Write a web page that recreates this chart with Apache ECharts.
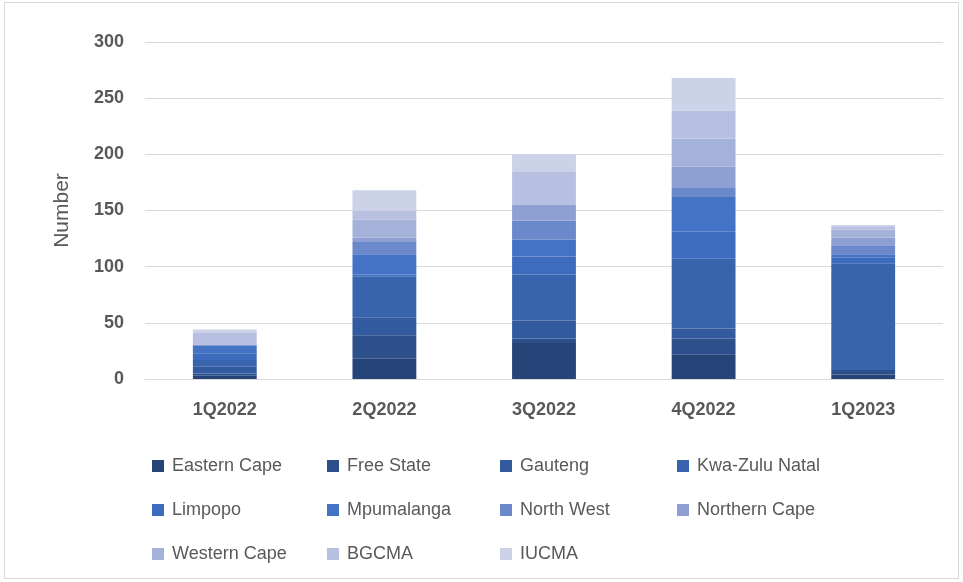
<!DOCTYPE html>
<html><head><meta charset="utf-8">
<script src="https://cdn.jsdelivr.net/npm/echarts@6/dist/echarts.min.js"></script>
<style>html,body{margin:0;padding:0;background:#fff}#wrap{position:absolute;left:4px;top:2px;width:955px;height:577px;border:1px solid #d9d9d9;box-sizing:border-box}#c{position:absolute;left:0;top:0;width:963px;height:582px}</style>
</head><body><div id="wrap"></div><div id="c"></div>
<script>
const categories = ['1Q2022','2Q2022','3Q2022','4Q2022','1Q2023'];
const seriesNames = ['Eastern Cape','Free State','Gauteng','Kwa-Zulu Natal','Limpopo','Mpumalanga','North West','Northern Cape','Western Cape','BGCMA','IUCMA'];
const easternCape  = [3, 18, 32, 22, 4];
const freeState    = [2, 21, 4, 14, 4];
const gauteng      = [6, 16, 16, 9, 0];
const kwaZuluNatal = [6, 36, 41, 62, 95];
const limpopo      = [6, 2, 16, 24, 5];
const mpumalanga   = [7, 18, 15, 31, 3];
const northWest    = [0, 11, 17, 8, 8];
const northernCape = [0, 4, 14, 19, 7];
const westernCape  = [1, 16, 0, 25, 7];
const bgcma        = [10, 8, 30, 25, 3];
const iucma        = [3, 18, 15, 29, 1];
const yTicks = [0, 50, 100, 150, 200, 250, 300];
const colors = ['#264478','#2d4f8c','#325a9f','#3863ad','#3d6bbd','#4472c4','#6b88cb','#8ea0d3','#a4b2da','#b7c0e1','#ccd2e8'];
const allData = [easternCape, freeState, gauteng, kwaZuluNatal, limpopo, mpumalanga, northWest, northernCape, westernCape, bgcma, iucma];

const legendPos = [
  [152,457],[327,457],[500,457],[677,457],
  [152,501],[327,501],[500,501],[677,501],
  [152,545],[327,545],[500,545]
];
const legends = seriesNames.map((n,i)=>({
  data:[n], left:legendPos[i][0], top:legendPos[i][1], itemWidth:12, itemHeight:12, itemGap:0, padding:0,
  icon:'rect', selectedMode:false,
  textStyle:{color:'#595959', fontSize:18, fontFamily:'Liberation Sans', padding:[0,0,0,3]}
}));

const chart = echarts.init(document.getElementById('c'));
chart.setOption({
  animation:false,
  grid:{left:145, right:20, top:42, bottom:203, containLabel:false},
  legend: legends,
  xAxis:{type:'category', data:categories,
    axisLine:{lineStyle:{color:'#d9d9d9'}}, axisTick:{show:false},
    axisLabel:{color:'#595959', fontSize:18, fontWeight:'bold', fontFamily:'Liberation Sans', margin:22}},
  yAxis:{type:'value', min:0, max:300, interval:50,
    name:'Number', nameLocation:'middle', nameGap:72, nameRotate:90,
    nameTextStyle:{color:'#595959', fontSize:21, fontFamily:'Liberation Sans'},
    axisLine:{show:false}, axisTick:{show:false},
    splitLine:{lineStyle:{color:'#d9d9d9', width:1}},
    axisLabel:{color:'#595959', fontSize:18, fontWeight:'bold', fontFamily:'Liberation Sans', margin:21,
      formatter:v=>yTicks.includes(v)?String(v):''}},
  series: seriesNames.map((n,i)=>({
    name:n, type:'bar', stack:'total', barWidth:'40%', data:allData[i],
    itemStyle:{color:colors[i]}
  }))
});
</script>
</body></html>
